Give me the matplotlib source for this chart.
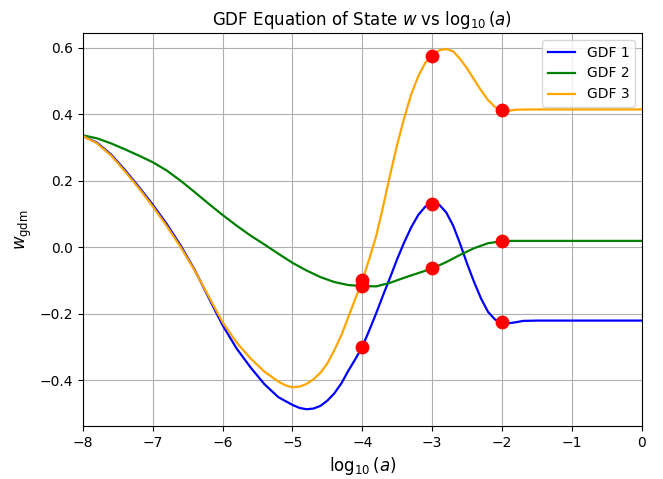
import matplotlib
matplotlib.use("Agg")
import matplotlib.pyplot as plt

# GDF 1 (blue)
x1 = [-8.0, -7.8, -7.6, -7.4, -7.2, -7.0, -6.8, -6.6, -6.4, -6.2, -6.0, -5.8, -5.6, -5.4,
      -5.2, -5.0, -4.9, -4.8, -4.7, -4.6, -4.5, -4.4, -4.3, -4.2, -4.1, -4.0, -3.9, -3.8,
      -3.7, -3.6, -3.5, -3.4, -3.3, -3.2, -3.1, -3.0, -2.95, -2.9, -2.8, -2.7, -2.6, -2.5,
      -2.4, -2.3, -2.2, -2.1, -2.0, -1.9, -1.8, -1.7, -1.5, 0.0]
w1 = [0.335, 0.315, 0.28, 0.233, 0.182, 0.128, 0.07, 0.005, -0.068, -0.152, -0.235, -0.305,
      -0.362, -0.413, -0.452, -0.475, -0.484, -0.488, -0.486, -0.478, -0.462, -0.44, -0.41,
      -0.372, -0.337, -0.30, -0.25, -0.198, -0.143, -0.09, -0.035, 0.015, 0.06, 0.097,
      0.122, 0.132, 0.133, 0.128, 0.105, 0.065, 0.01, -0.05, -0.105, -0.155, -0.195,
      -0.218, -0.226, -0.229, -0.226, -0.222, -0.221, -0.221]

# GDF 2 (green)
x2 = [-8.0, -7.8, -7.6, -7.4, -7.2, -7.0, -6.8, -6.6, -6.4, -6.2, -6.0, -5.8, -5.6, -5.4,
      -5.2, -5.0, -4.8, -4.6, -4.4, -4.2, -4.0, -3.8, -3.6, -3.4, -3.2, -3.0, -2.8, -2.6,
      -2.4, -2.2, -2.0, -1.9, 0.0]
w2 = [0.337, 0.328, 0.313, 0.295, 0.276, 0.256, 0.231, 0.2, 0.166, 0.131, 0.097, 0.065,
      0.035, 0.008, -0.02, -0.047, -0.07, -0.09, -0.105, -0.114, -0.117, -0.118, -0.107,
      -0.092, -0.078, -0.064, -0.045, -0.023, -0.003, 0.012, 0.018, 0.019, 0.019]

# GDF 3 (orange)
x3 = [-8.0, -7.8, -7.6, -7.4, -7.2, -7.0, -6.8, -6.6, -6.4, -6.2, -6.0, -5.8, -5.6, -5.4,
      -5.2, -5.1, -5.0, -4.9, -4.8, -4.7, -4.6, -4.5, -4.4, -4.3, -4.2, -4.1, -4.0, -3.9,
      -3.8, -3.7, -3.6, -3.5, -3.4, -3.3, -3.2, -3.1, -3.0, -2.9, -2.8, -2.7, -2.6, -2.5,
      -2.4, -2.3, -2.2, -2.1, -2.0, -1.9, -1.8, -1.6, 0.0]
w3 = [0.335, 0.313, 0.277, 0.229, 0.178, 0.123, 0.064, 0.0, -0.07, -0.148, -0.226, -0.287,
      -0.335, -0.375, -0.405, -0.416, -0.422, -0.42, -0.412, -0.398, -0.378, -0.35, -0.31,
      -0.265, -0.21, -0.155, -0.10, -0.035, 0.035, 0.125, 0.22, 0.31, 0.39, 0.46, 0.515,
      0.555, 0.578, 0.593, 0.597, 0.59, 0.567, 0.538, 0.505, 0.472, 0.443, 0.422, 0.412,
      0.411, 0.414, 0.415, 0.415]

# Marked points
mark_x = [-4, -3, -2]
mark_1 = [-0.30, 0.131, -0.224]
mark_2 = [-0.116, -0.064, 0.018]
mark_3 = [-0.10, 0.577, 0.413]

fig = plt.figure(figsize=(6.63, 4.79), dpi=100)
ax = fig.add_axes([0.125, 0.111, 0.843, 0.820])

ax.plot(x1, w1, color="blue", lw=1.6, label="GDF 1")
ax.plot(x2, w2, color="green", lw=1.6, label="GDF 2")
ax.plot(x3, w3, color="orange", lw=1.6, label="GDF 3")

for ys in (mark_1, mark_2, mark_3):
    ax.scatter(mark_x, ys, color="red", s=80, zorder=5)

ax.set_xlim(-8, 0)
ax.set_ylim(-0.538, 0.645)
ax.set_xticks(range(-8, 1))
ax.set_yticks([-0.4, -0.2, 0.0, 0.2, 0.4, 0.6])
ax.grid(True)
ax.set_title(r"GDF Equation of State $w$ vs $\log_{10}(a)$", fontsize=12)
ax.set_xlabel(r"$\log_{10}(a)$", fontsize=12)
ax.set_ylabel(r"$w_{\rm gdm}$", fontsize=12)
ax.legend(loc="upper right")

fig.savefig("out.png", dpi=100)
